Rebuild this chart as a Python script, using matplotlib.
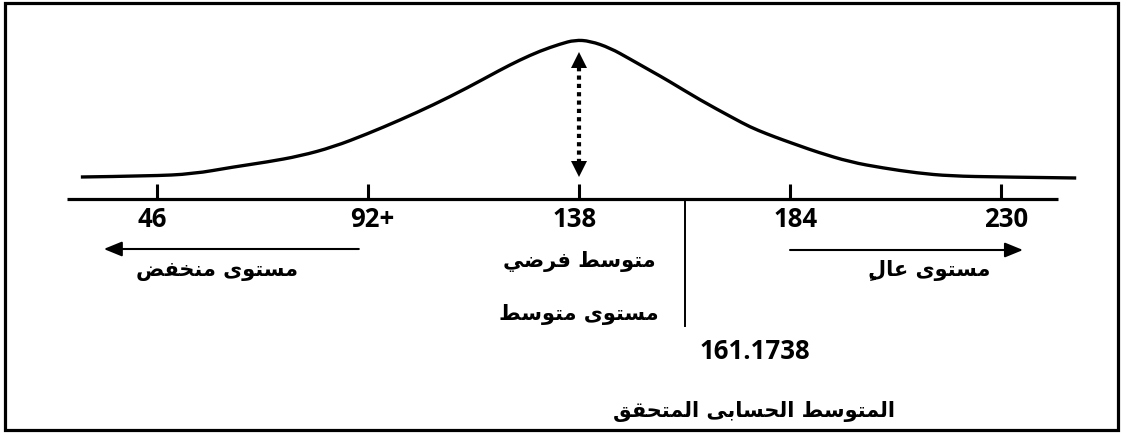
import matplotlib
matplotlib.use("Agg")
import matplotlib.pyplot as plt
from matplotlib.patches import Rectangle, PathPatch
from matplotlib.path import Path

# ---------------- data ----------------
tick_values = [46, 92, 138, 184, 230]
tick_labels = ["46", "92+", "138", "184", "230"]
assumed_mean = 138
actual_mean = 161.1738
actual_mean_label = "161.1738"

# bell curve (score value, relative height)
curve_x = [29.4, 44.5, 53.8, 62.6, 70.0, 77.2, 84.4, 91.8, 99.0, 106.2, 113.6,
           120.8, 125.1, 129.5, 133.9, 137.1, 140.4, 144.8, 149.1, 154.1, 157.2,
           164.4, 171.6, 175.3, 179.0, 182.5, 186.2, 189.9, 197.1, 204.3, 211.7,
           218.9, 229.8, 246.4]
curve_y = [22, 23, 25, 32, 37, 43, 52, 65, 79, 94, 111,
           129, 139, 148, 155, 159, 158, 151, 140, 127, 119,
           99, 81, 72, 65, 59, 53, 47, 37, 31, 26,
           23, 22, 21]

label_low = "مستوى منخفض"
label_assumed = "متوسط فرضي"
label_mid = "مستوى متوسط"
label_high = "مستوى عالٍ"
label_actual = "المتوسط الحسابى المتحقق"

# ---------------- minimal Arabic shaping ----------------
FORMS = {
    'ا': (0xFE8D, 0xFE8E, None, None),
    'ب': (0xFE8F, 0xFE90, 0xFE91, 0xFE92),
    'ت': (0xFE95, 0xFE96, 0xFE97, 0xFE98),
    'ح': (0xFEA1, 0xFEA2, 0xFEA3, 0xFEA4),
    'خ': (0xFEA5, 0xFEA6, 0xFEA7, 0xFEA8),
    'ر': (0xFEAD, 0xFEAE, None, None),
    'س': (0xFEB1, 0xFEB2, 0xFEB3, 0xFEB4),
    'ض': (0xFEBD, 0xFEBE, 0xFEBF, 0xFEC0),
    'ط': (0xFEC1, 0xFEC2, 0xFEC3, 0xFEC4),
    'ع': (0xFEC9, 0xFECA, 0xFECB, 0xFECC),
    'ف': (0xFED1, 0xFED2, 0xFED3, 0xFED4),
    'ق': (0xFED5, 0xFED6, 0xFED7, 0xFED8),
    'ل': (0xFEDD, 0xFEDE, 0xFEDF, 0xFEE0),
    'م': (0xFEE1, 0xFEE2, 0xFEE3, 0xFEE4),
    'ن': (0xFEE5, 0xFEE6, 0xFEE7, 0xFEE8),
    'و': (0xFEED, 0xFEEE, None, None),
    'ى': (0xFEEF, 0xFEF0, None, None),
    'ي': (0xFEF1, 0xFEF2, 0xFEF3, 0xFEF4),
}
MARKS = {'\u064B', '\u064C', '\u064D', '\u064E', '\u064F', '\u0650', '\u0651', '\u0652'}


def shape(text):
    clusters = []
    for ch in text:
        if ch in MARKS and clusters:
            clusters[-1][1].append(ch)
        else:
            clusters.append([ch, []])
    out = []
    n = len(clusters)
    for i, (ch, marks) in enumerate(clusters):
        f = FORMS.get(ch)
        if f is None:
            out.append([ch, marks])
            continue
        prev = clusters[i - 1][0] if i > 0 else None
        nxt = clusters[i + 1][0] if i < n - 1 else None
        jp = prev in FORMS and FORMS[prev][2] is not None
        jn = nxt in FORMS and f[2] is not None
        if jp and jn:
            code = f[3]
        elif jp:
            code = f[1]
        elif jn:
            code = f[2]
        else:
            code = f[0]
        out.append([chr(code), marks])
    out.reverse()
    # marks placed just before their base in visual order so they sit under it
    return "".join("".join(m) + c for c, m in out)


# ---------------- figure ----------------
W, H, DPI = 1122, 435, 100
fig = plt.figure(figsize=(W / DPI, H / DPI), dpi=DPI)
ax = fig.add_axes([0, 0, 1, 1])
k = 46 / 211.0
ax.set_xlim(46 - 157 * k, 46 + (W - 157) * k)
ax.set_ylim(-235, 200)
ax.axis("off")

# outer frame
fig.patches.append(Rectangle((5 / W, 4 / H), 1113 / W, 427 / H,
                             transform=fig.transFigure, fill=False,
                             edgecolor="black", linewidth=2.3))

# smooth curve (quadratic pieces through midpoints of the read points)
pts = list(zip(curve_x, curve_y))
verts = [pts[0]]
codes = [Path.MOVETO]
for i in range(1, len(pts) - 1):
    mid = ((pts[i][0] + pts[i + 1][0]) / 2, (pts[i][1] + pts[i + 1][1]) / 2)
    if i == len(pts) - 2:
        mid = pts[-1]
    verts += [pts[i], mid]
    codes += [Path.CURVE3, Path.CURVE3]
ax.add_patch(PathPatch(Path(verts, codes), fill=False, edgecolor="black",
                       lw=2.4, joinstyle="round", capstyle="butt"))

# baseline axis + ticks
ax.plot([26.4, 242.4], [0, 0], color="black", lw=2.3, solid_capstyle="butt")
for v in tick_values:
    ax.plot([v, v], [0, 15], color="black", lw=2.2, solid_capstyle="butt")

num_font = dict(family="Open Sans", fontweight="bold", fontsize=18.5)
offsets = [-1.1, 1.0, -0.9, 1.3, 1.1]
for v, lab, off in zip(tick_values, tick_labels, offsets):
    ax.text(v + off, -20, lab, ha="center", va="center", **num_font)

# dotted double-headed arrow at assumed mean
ax.plot([assumed_mean, assumed_mean], [36, 132], color="black", lw=3,
        linestyle=(0, (1, 1)), dash_capstyle="butt")
ax.plot([assumed_mean], [139], marker="^", color="black", markersize=12,
        markeredgewidth=0)
ax.plot([assumed_mean], [30], marker="v", color="black", markersize=12,
        markeredgewidth=0)

# actual mean vertical line
ax.plot([actual_mean, actual_mean], [0, -127], color="black", lw=1.4)

# direction arrows
arr = dict(arrowstyle="-|>,head_length=1.1,head_width=0.45", color="black",
           lw=1.5, shrinkA=0, shrinkB=0)
ax.annotate("", xy=(34.4, -50), xytext=(90.0, -50), arrowprops=arr)
ax.annotate("", xy=(234.8, -51), xytext=(184, -51), arrowprops=arr)

ar_font = dict(family=["DejaVu Sans"], fontweight="bold", fontsize=15)
ax.text(59.1, -71, shape(label_low), ha="center", va="center", **ar_font)
ax.text(assumed_mean, -62, shape(label_assumed), ha="center", va="center", **ar_font)
ax.text(assumed_mean, -115, shape(label_mid), ha="center", va="center", **ar_font)
ax.text(214.3, -70, shape(label_high), ha="center", va="center", **ar_font)
ax.text(176.4, -152, actual_mean_label, ha="center", va="center", **num_font)
ax.text(176.2, -212, shape(label_actual), ha="center", va="center", **ar_font)

fig.savefig("out.png", dpi=DPI, facecolor="white")
